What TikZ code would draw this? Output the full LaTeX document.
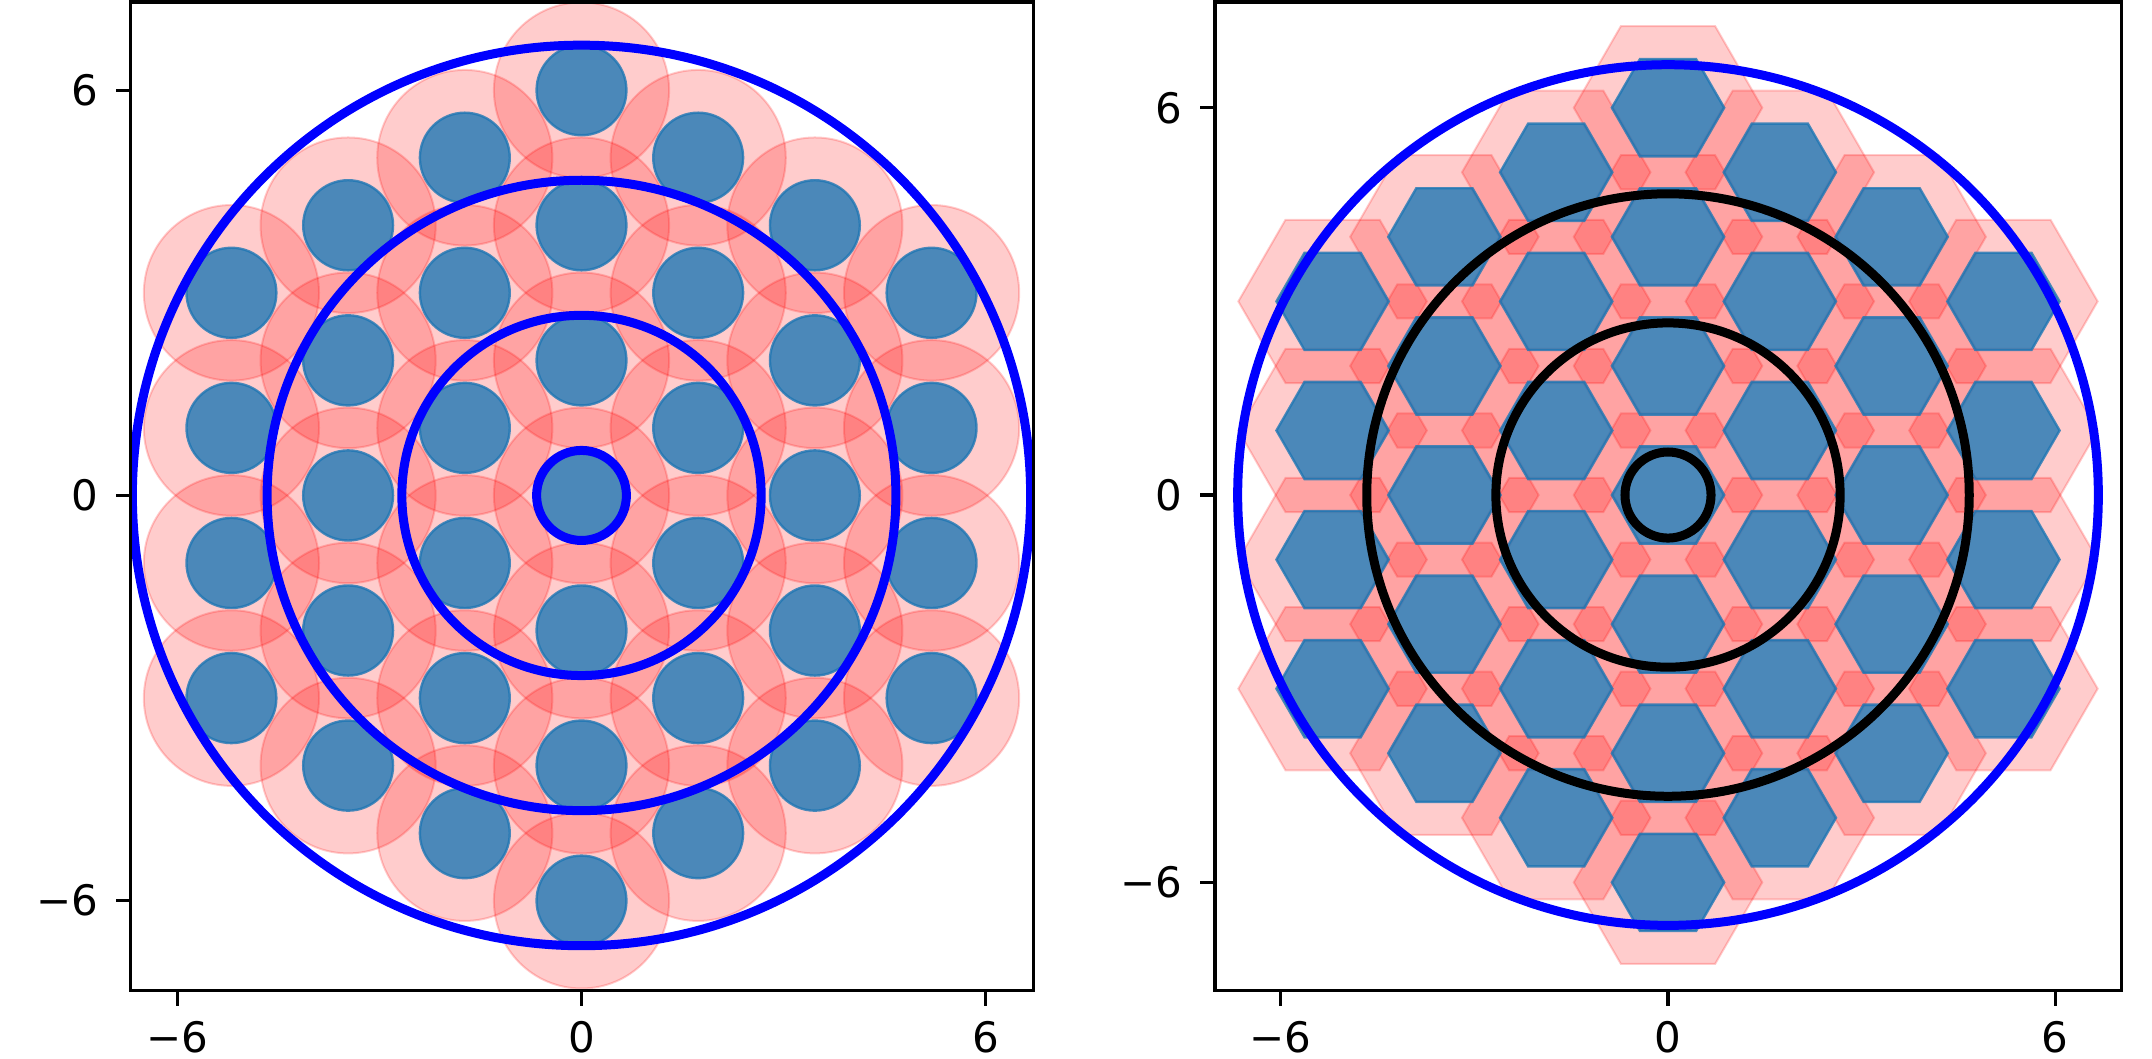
\documentclass[tikz,border=0pt]{standalone}
\usepackage{fontspec}
\setmainfont{DejaVu Sans}
\definecolor{cblue}{RGB}{31,119,180}
\definecolor{ringblue}{RGB}{0,0,255}
\begin{document}
\begin{tikzpicture}[x=0.5pt,y=0.5pt,
  pinkpatch/.style={fill=red, fill opacity=0.2, draw=red, draw opacity=0.2, line width=1pt},
  bluepatch/.style={fill=cblue, fill opacity=0.8, draw=cblue, draw opacity=0.8, line width=1.2pt},
  ringline/.style={line width=4.5pt},
  spine/.style={line width=1.6pt, draw=black},
  tickmark/.style={line width=1.6pt, draw=black},
  ticklbl/.style={font=\fontsize{21}{25}\selectfont, inner sep=0pt}]
\useasboundingbox (0,0) rectangle (2152,1059);

% ---------------- left panel ----------------
\begin{scope}
  \clip (130.5,68.3) rectangle (1033.5,1057);
  \begin{scope}[shift={(581.5,563.55)}, x=33.685pt, y=33.77pt]
    \foreach \i in {-3,...,3} {
      \pgfmathtruncatemacro\n{6-abs(\i)}
      \foreach \k in {0,...,\n} {
        \path[pinkpatch] ({\i*sqrt(3)},{-\n+2*\k}) circle[radius=1.3];
      }
    }
    \foreach \i in {-3,...,3} {
      \pgfmathtruncatemacro\n{6-abs(\i)}
      \foreach \k in {0,...,\n} {
        \path[bluepatch] ({\i*sqrt(3)},{-\n+2*\k}) circle[radius=0.667];
      }
    }
    \foreach \r in {0.6667,2.6667,4.6667,6.6667} {
      \draw[ringline, ringblue] (0,0) circle[radius=\r];
    }
  \end{scope}
\end{scope}
\draw[spine] (130.5,68.3) rectangle (1033.5,1057);
\foreach \v/\t [count=\c] in {-6/−6,0/0,6/6} {
  \draw[tickmark] ({581.5+67.37*\v},68.3) -- ({581.5+67.37*\v},53.3);
  \node[ticklbl, anchor=north] (lx\c) at ({581.5+67.37*\v},38) {\t};
  \draw[tickmark] (130.5,{563.55+67.54*\v}) -- (115.5,{563.55+67.54*\v});
  \node[ticklbl, anchor=east] (ly\c) at (98.5,{563.55+67.54*\v}) {\t};
}

% ---------------- right panel ----------------
\begin{scope}
  \clip (1215,68.3) rectangle (2121.7,1057);
  \begin{scope}[shift={(1668,563.95)}, x=32.275pt, y=32.275pt]
    \foreach \i in {-3,...,3} {
      \pgfmathtruncatemacro\n{6-abs(\i)}
      \foreach \k in {0,...,\n} {
        \path[pinkpatch, shift={({\i*sqrt(3)},{-\n+2*\k})}]
          (0:1.46) -- (60:1.46) -- (120:1.46) -- (180:1.46) -- (240:1.46) -- (300:1.46) -- cycle;
      }
    }
    \foreach \i in {-3,...,3} {
      \pgfmathtruncatemacro\n{6-abs(\i)}
      \foreach \k in {0,...,\n} {
        \path[bluepatch, shift={({\i*sqrt(3)},{-\n+2*\k})}]
          (0:0.87) -- (60:0.87) -- (120:0.87) -- (180:0.87) -- (240:0.87) -- (300:0.87) -- cycle;
      }
    }
    \draw[ringline, ringblue] (0,0) circle[radius=6.6667];
    \foreach \r in {0.6667,2.6667,4.6667} {
      \draw[ringline, black] (0,0) circle[radius=\r];
    }
  \end{scope}
\end{scope}
\draw[spine] (1215,68.3) rectangle (2121.7,1057);
\foreach \v/\t [count=\c] in {-6/−6,0/0,6/6} {
  \draw[tickmark] ({1668+64.55*\v},68.3) -- ({1668+64.55*\v},53.3);
  \node[ticklbl, anchor=north] (rx\c) at ({1668+64.55*\v},38) {\t};
  \draw[tickmark] (1215,{563.95+64.55*\v}) -- (1200,{563.95+64.55*\v});
  \node[ticklbl, anchor=east] (ry\c) at (1183,{563.95+64.55*\v}) {\t};
}
\end{tikzpicture}
\end{document}
